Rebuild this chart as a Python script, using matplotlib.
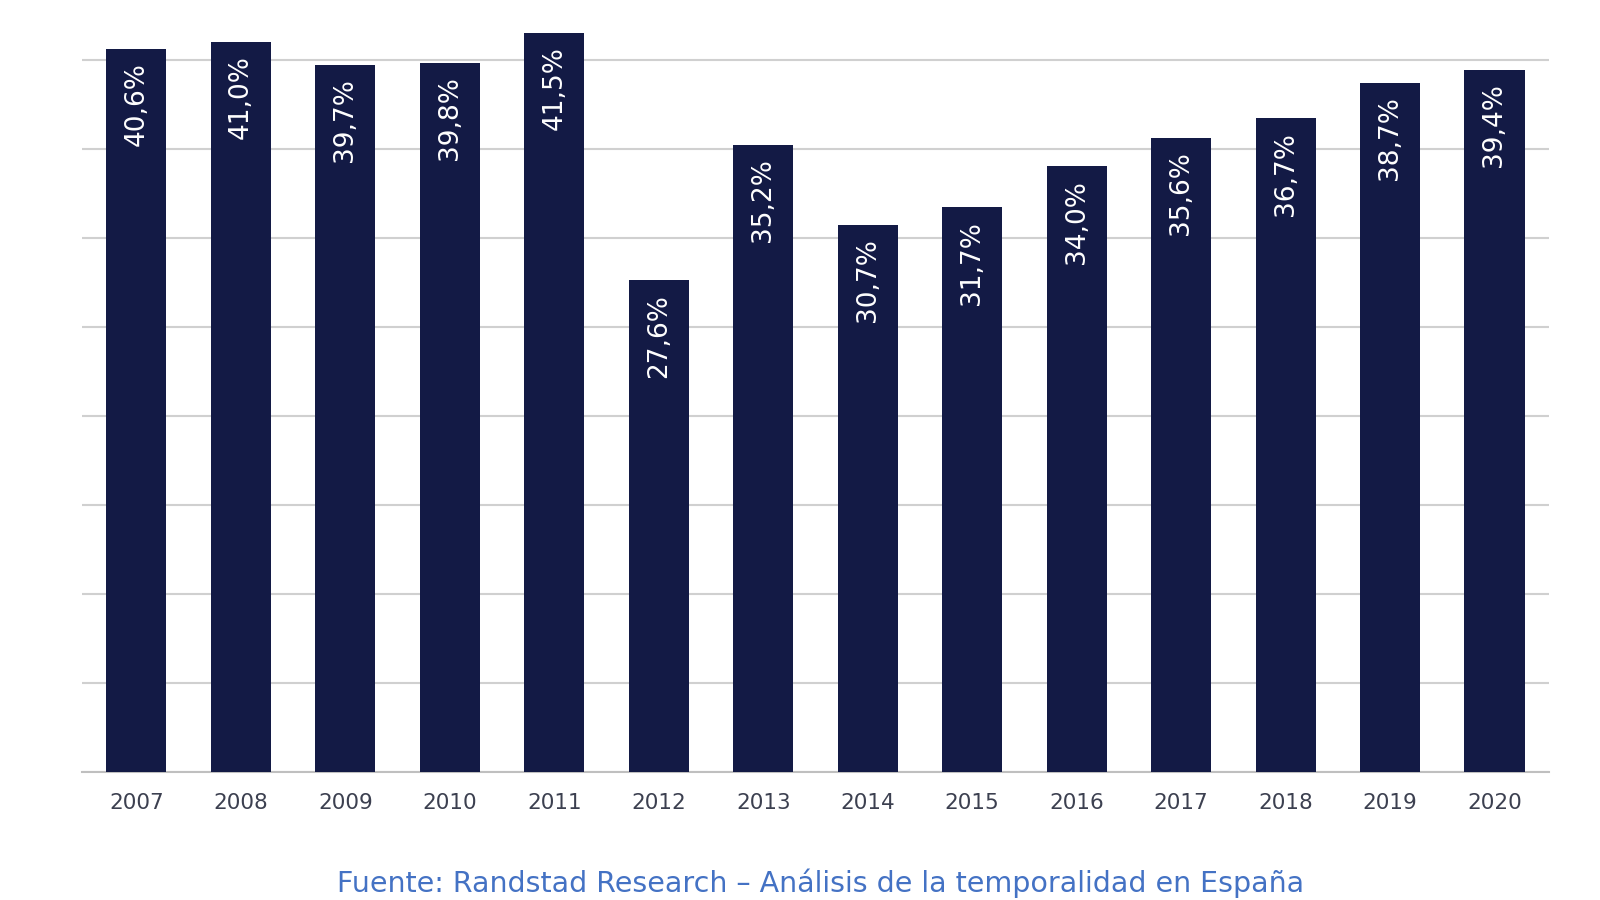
import matplotlib
matplotlib.use('Agg')
import matplotlib.pyplot as plt
import numpy as np

years = ['2007', '2008', '2009', '2010', '2011', '2012', '2013',
         '2014', '2015', '2016', '2017', '2018', '2019', '2020']
values = [40.6, 41.0, 39.7, 39.8, 41.5, 27.6, 35.2,
          30.7, 31.7, 34.0, 35.6, 36.7, 38.7, 39.4]
labels = ['40,6%', '41,0%', '39,7%', '39,8%', '41,5%', '27,6%', '35,2%',
          '30,7%', '31,7%', '34,0%', '35,6%', '36,7%', '38,7%', '39,4%']
source = 'Fuente: Randstad Research \u2013 An\u00e1lisis de la temporalidad en Espa\u00f1a'

bar_color = '#131a45'

fig = plt.figure(figsize=(16, 9), dpi=100)
ax = fig.add_axes([0.0513, 0.1425, 0.9167, 0.8507])

x = np.arange(len(years))
ax.bar(x, values, width=0.575, color=bar_color, zorder=3)

for xi, v, lab in zip(x, values, labels):
    ax.text(xi, v - 0.75, lab, rotation=90, ha='center', va='top',
            color='white', fontsize=19, zorder=4)

ax.set_xlim(-0.52, len(years) - 1 + 0.52)
ax.set_ylim(0, 43)
ax.set_yticks(np.arange(0, 41, 5))
ax.set_yticklabels([])
ax.tick_params(axis='y', length=0)
ax.set_xticks(x)
ax.set_xticklabels(years, fontsize=15.5, color='#3c4050')
ax.tick_params(axis='x', length=0, pad=15)
ax.grid(axis='y', color='#d0d0d0', linewidth=1.5, zorder=0)
for s in ['top', 'right', 'left']:
    ax.spines[s].set_visible(False)
ax.spines['bottom'].set_color('#bfbfbf')
ax.spines['bottom'].set_linewidth(1.5)

fig.text(0.5128, 1 - 892 / 900, source, ha='center', va='baseline',
         fontsize=20.5, color='#4472c4')

fig.savefig('out.png', dpi=100)
